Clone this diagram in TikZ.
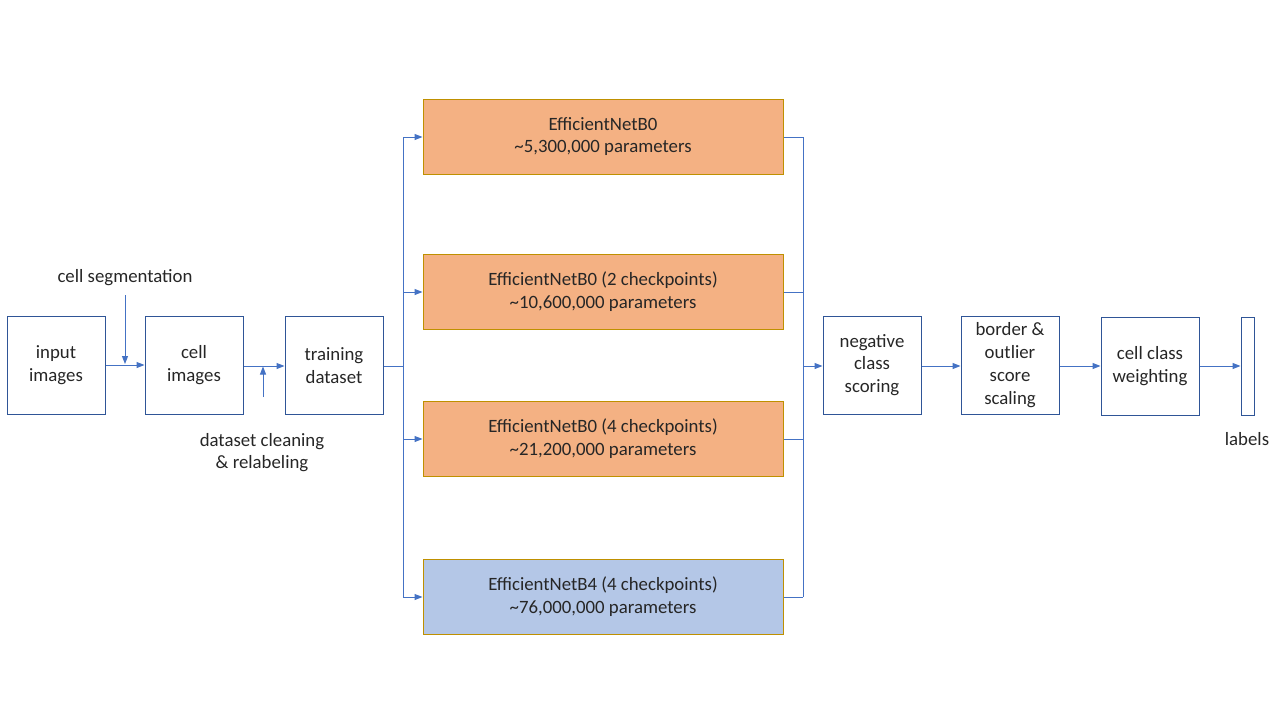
\documentclass[tikz,border=0pt]{standalone}
\usepackage{fontspec}
\setmainfont{Carlito}
\usetikzlibrary{arrows.meta}
\definecolor{lineblue}{HTML}{4472C4}
\definecolor{boxblue}{HTML}{2F5597}
\definecolor{orangefill}{HTML}{F4B183}
\definecolor{goldborder}{HTML}{BF9000}
\definecolor{bluefill}{HTML}{B4C7E7}
\begin{document}
\begin{tikzpicture}[x=1pt,y=-1pt,
  every node/.style={font=\fontsize{18.8}{22.8}\selectfont, text=black!85},
  proc/.style={draw=boxblue, line width=1pt, minimum width=98pt, minimum height=98pt, align=center, inner sep=0pt},
  net/.style={draw=goldborder, line width=1pt, minimum width=360pt, minimum height=75pt, align=center, inner sep=0pt},
  conn/.style={draw=lineblue, line width=1pt},
  arr/.style={conn, -{Triangle[length=8pt,width=6pt]}},
  lbl/.style={align=center, inner sep=0pt}
]
\useasboundingbox (0,0) rectangle (1280,720);
% left process boxes
\node[proc] (input) at (56,365) {input\\images};
\node[proc] (cell) at (194,365) {cell\\images};
\node[proc] (train) at (334,365.5) {training\\dataset};
% networks
\node[net, fill=orangefill] (n1) at (603,136.5) {EfficientNetB0\\\char`~5,300,000 parameters};
\node[net, fill=orangefill] (n2) at (603,292) {EfficientNetB0 (2 checkpoints)\\\char`~10,600,000 parameters};
\node[net, fill=orangefill] (n3) at (603,438.5) {EfficientNetB0 (4 checkpoints)\\\char`~21,200,000 parameters};
\node[net, fill=bluefill] (n4) at (603,597) {EfficientNetB4 (4 checkpoints)\\\char`~76,000,000 parameters};
% right process boxes
\node[proc] (neg) at (872,365) {negative\\class\\scoring};
\node[proc] (bord) at (1010,365) {border \&\\outlier\\score\\scaling};
\node[proc] (weight) at (1150,366) {cell class\\weighting};
\node[draw=boxblue, line width=1pt, minimum width=13pt, minimum height=98pt, inner sep=0pt] (lab) at (1247.5,366) {};
\node[lbl] (labtxt) at (1247,439) {labels};
% annotations
\node[lbl] (seg) at (125,278) {cell segmentation};
\node[lbl] (clean) at (262,452.5) {dataset cleaning\\\& relabeling};
\coordinate (segtop) at (125,295);
\coordinate (cleanbot) at (263,397);
\coordinate (split) at (403,366);
\coordinate (join) at (803,366);
% connectors
\draw[arr] (input.east |- 0,365) -- (cell.west |- 0,365);
\draw[arr] (segtop) -- (125,364);
\draw[arr] (cell.east |- 0,366) -- (train.west |- 0,366);
\draw[arr] (cleanbot) -- (263,366.5);
\draw[conn] (train.east |- split) -- (split);
\draw[conn] (403,137) -- (403,597);
\draw[arr] (403,137) -- (n1.west |- 0,137);
\draw[arr] (403,292) -- (n2.west |- 0,292);
\draw[arr] (403,439) -- (n3.west |- 0,439);
\draw[arr] (403,597) -- (n4.west |- 0,597);
\draw[conn] (n1.east |- 0,137) -- (803,137);
\draw[conn] (n2.east |- 0,292) -- (803,292);
\draw[conn] (n3.east |- 0,439) -- (803,439);
\draw[conn] (n4.east |- 0,597) -- (803,597);
\draw[conn] (803,137) -- (803,597);
\draw[arr] (join) -- (neg.west |- join);
\draw[arr] (neg.east |- 0,366) -- (bord.west |- 0,366);
\draw[arr] (bord.east |- 0,366) -- (weight.west |- 0,366);
\draw[arr] (weight.east |- 0,366) -- (lab.west |- 0,366);
\end{tikzpicture}
\end{document}
